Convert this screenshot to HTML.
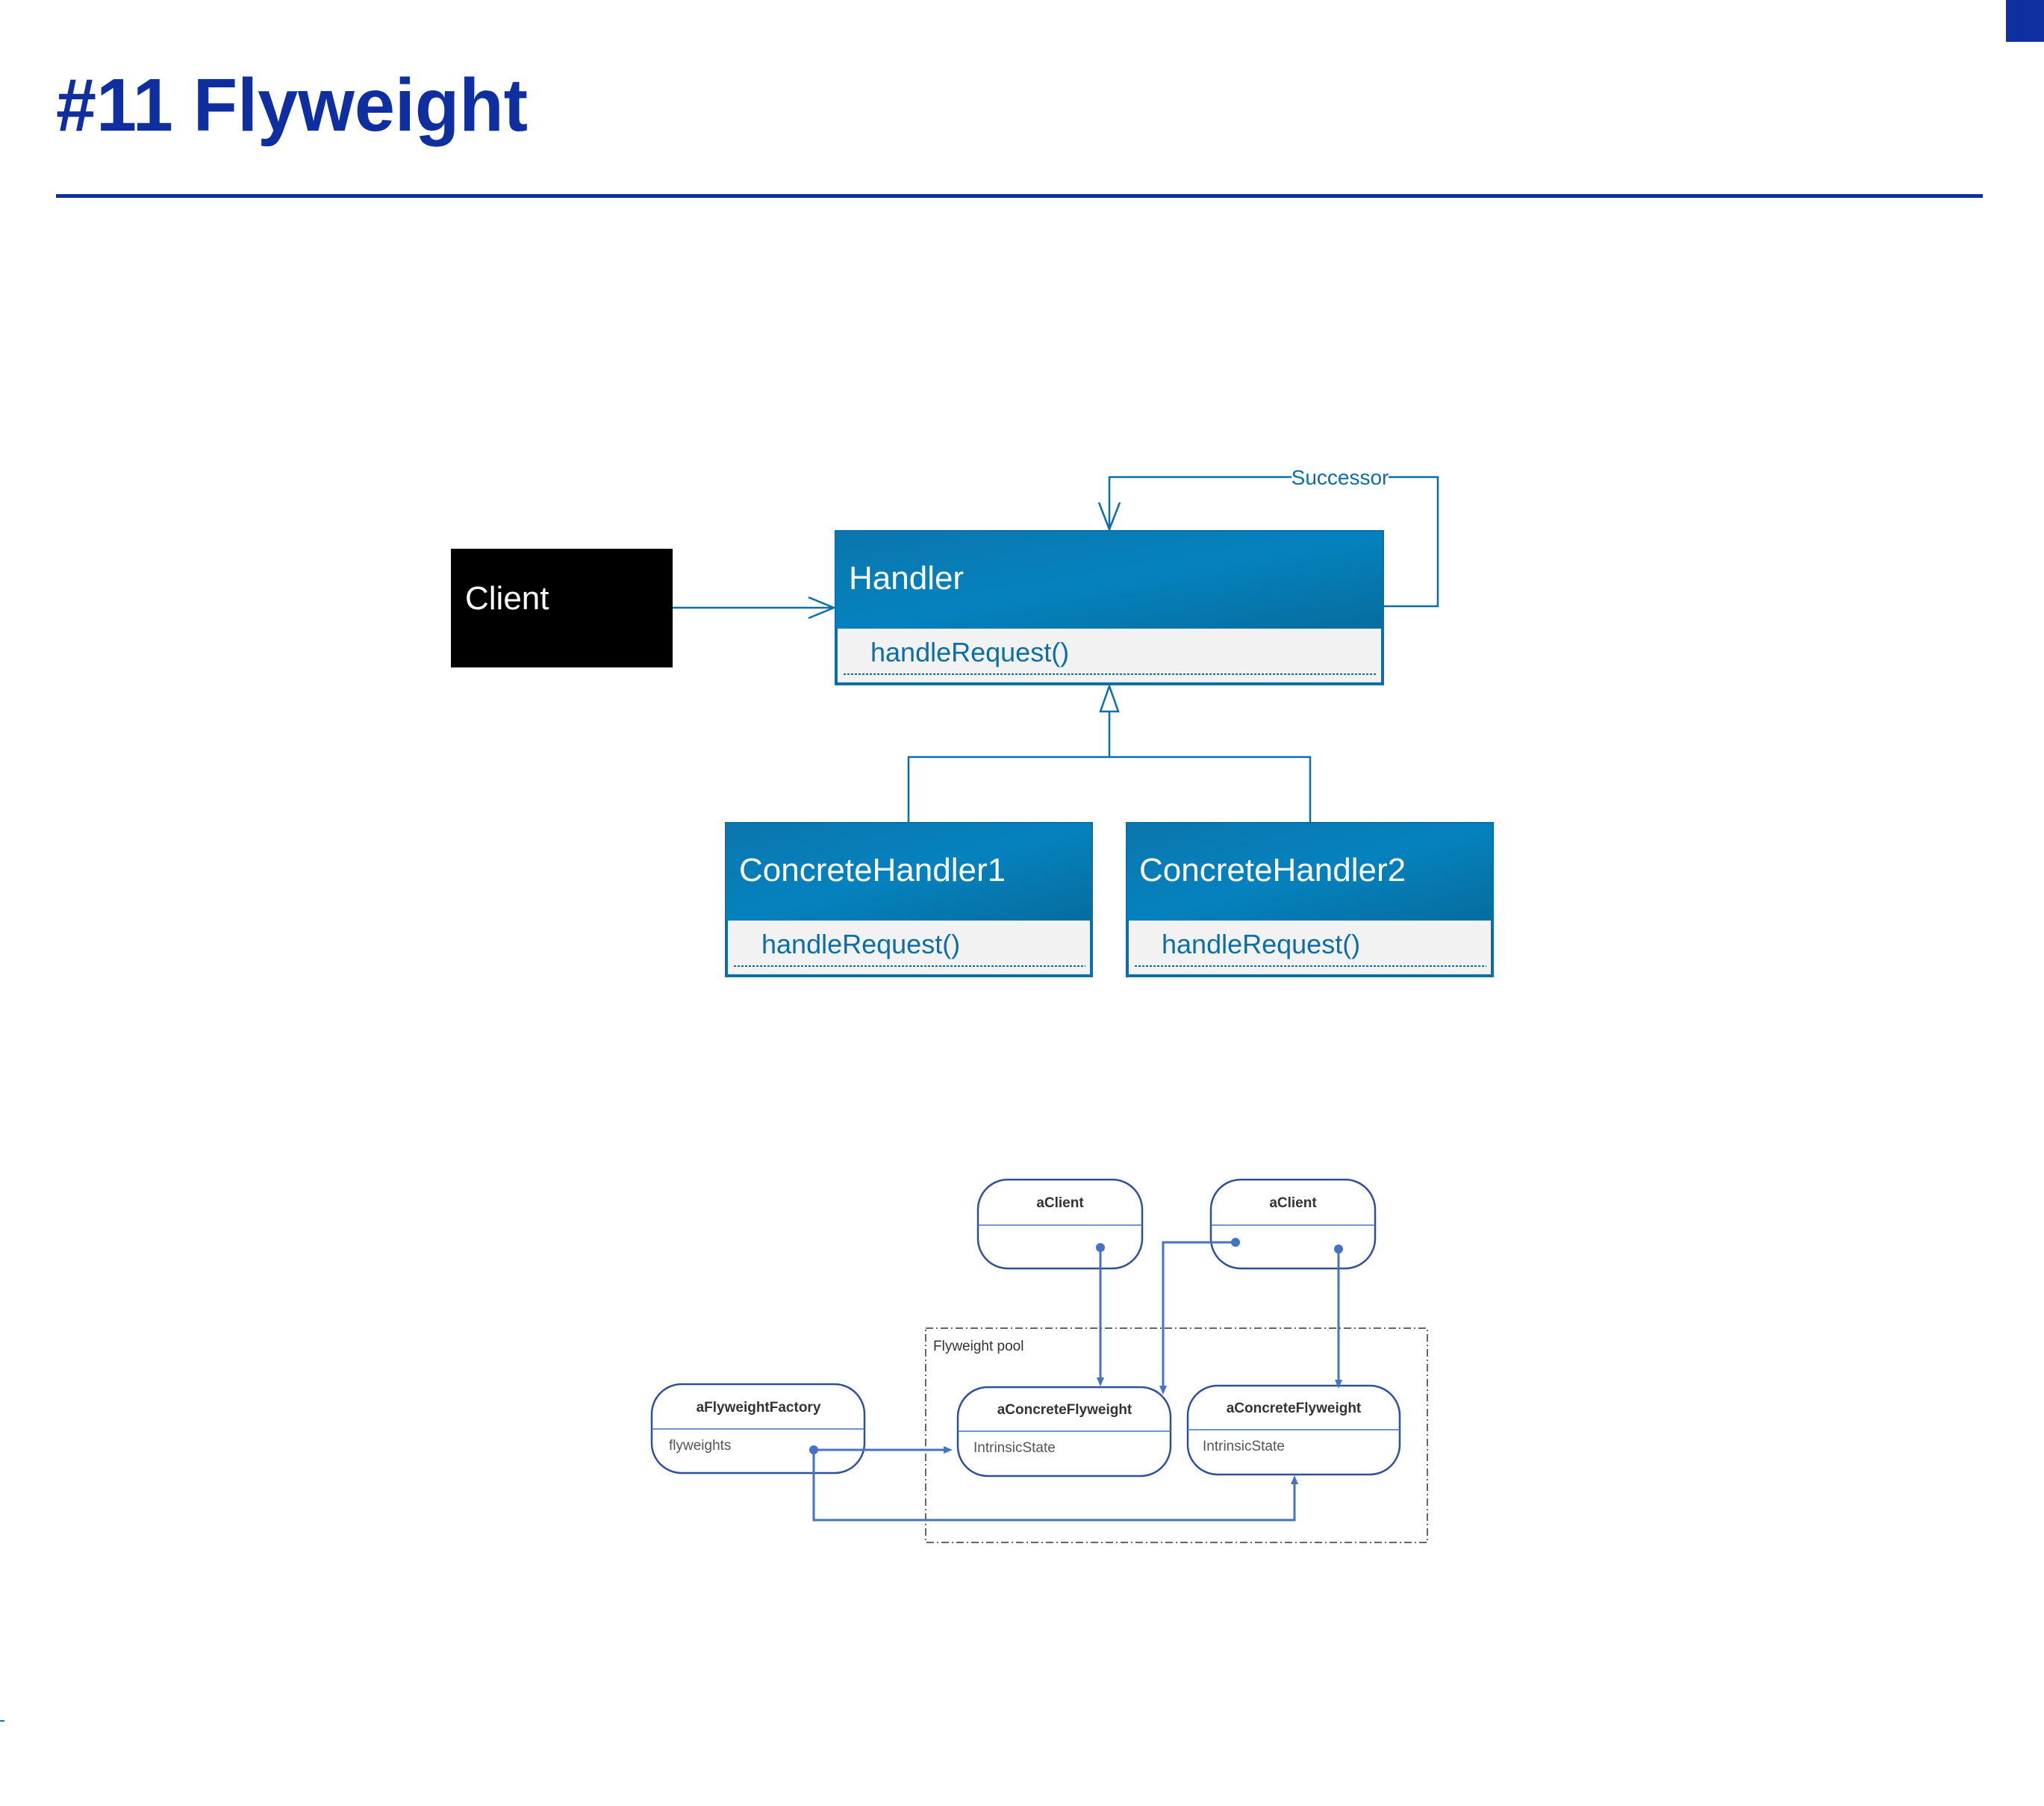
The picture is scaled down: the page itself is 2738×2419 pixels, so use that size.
<!DOCTYPE html>
<html><head><meta charset="utf-8"><style>
html,body{margin:0;padding:0;background:#fff;}
svg{display:block;}
text{font-family:"Liberation Sans",sans-serif;}
</style></head><body>
<svg width="2738" height="2419" viewBox="0 0 2738 2419" xmlns="http://www.w3.org/2000/svg">
<defs>
<linearGradient id="hg" x1="0" y1="0" x2="1" y2="1">
<stop offset="0" stop-color="#0b76ad"/><stop offset="0.5" stop-color="#0582be"/><stop offset="1" stop-color="#066d9f"/>
</linearGradient>
</defs>
<rect x="2687" y="0" width="51" height="56" fill="#0f2fa0"/>
<text x="75" y="175" font-size="100" font-weight="bold" fill="#0f2fa0" textLength="632" lengthAdjust="spacingAndGlyphs">#11 Flyweight</text>
<rect x="75" y="260" width="2581" height="5" fill="#0f2fa0"/>
<rect x="0" y="2304" width="6" height="2" fill="#0a7ab5"/>

<!-- Client -->
<rect x="604" y="735" width="297" height="159" fill="#000"/>
<text x="623" y="816" font-size="44" fill="#fff">Client</text>
<g stroke="#0a6ea8" stroke-width="2.5" fill="none">
<line x1="901" y1="814" x2="1117" y2="814"/>
<polyline points="1083,800 1117,814 1083,828"/>
<polyline points="1853,812 1926,812 1926,639 1486,639 1486,709"/>
<polyline points="1472,673 1486,709 1500,673"/>
<polygon points="1486,919 1474,953 1498,953"/>
<polyline points="1486,953 1486,1014 1217,1014 1217,1102"/>
<polyline points="1486,1014 1755,1014 1755,1102"/>
</g>
<rect x="1730" y="624" width="130" height="30" fill="#fff"/>
<text x="1795" y="649" font-size="28" fill="#0a6ea8" text-anchor="middle">Successor</text>

<!-- Handler -->
<rect x="1120" y="712" width="732" height="204" fill="#f2f2f2" stroke="#0a6ea8" stroke-width="4"/>
<rect x="1120" y="712" width="732" height="130" fill="url(#hg)"/>
<text x="1137" y="789" font-size="44" fill="#fff">Handler</text>
<text x="1166" y="886" font-size="36" fill="#0a6ea8">handleRequest()</text>
<line x1="1130" y1="903" x2="1844" y2="903" stroke="#0a6ea8" stroke-width="2" stroke-dasharray="3,2"/>

<!-- CH1 -->
<rect x="973" y="1103" width="489" height="204" fill="#f2f2f2" stroke="#0a6ea8" stroke-width="4"/>
<rect x="973" y="1103" width="489" height="130" fill="url(#hg)"/>
<text x="990" y="1180" font-size="44" fill="#fff">ConcreteHandler1</text>
<text x="1020" y="1277" font-size="36" fill="#0a6ea8">handleRequest()</text>
<line x1="983" y1="1294" x2="1454" y2="1294" stroke="#0a6ea8" stroke-width="2" stroke-dasharray="3,2"/>
<!-- CH2 -->
<rect x="1510" y="1103" width="489" height="204" fill="#f2f2f2" stroke="#0a6ea8" stroke-width="4"/>
<rect x="1510" y="1103" width="489" height="130" fill="url(#hg)"/>
<text x="1526" y="1180" font-size="44" fill="#fff">ConcreteHandler2</text>
<text x="1556" y="1277" font-size="36" fill="#0a6ea8">handleRequest()</text>
<line x1="1520" y1="1294" x2="1991" y2="1294" stroke="#0a6ea8" stroke-width="2" stroke-dasharray="3,2"/>

<!-- Flyweight pool -->
<rect x="1240" y="1779" width="672" height="287" fill="none" stroke="#333" stroke-width="1.5" stroke-dasharray="10,4,2,4"/>
<text x="1250" y="1809" font-size="19" fill="#333">Flyweight pool</text>

<g fill="#fff" stroke="#2f4f9a" stroke-width="2.5">
<rect x="1310" y="1580" width="220" height="119" rx="40"/>
<rect x="1622" y="1580" width="220" height="119" rx="40"/>
<rect x="873" y="1854" width="285" height="119" rx="40"/>
<rect x="1283" y="1858" width="285" height="119" rx="40"/>
<rect x="1591" y="1856" width="284" height="119" rx="40"/>
</g>
<g stroke="#4472c4" stroke-width="1.5">
<line x1="1310" y1="1641" x2="1530" y2="1641"/>
<line x1="1622" y1="1641" x2="1842" y2="1641"/>
<line x1="873" y1="1914" x2="1158" y2="1914"/>
<line x1="1283" y1="1917" x2="1568" y2="1917"/>
<line x1="1591" y1="1915" x2="1875" y2="1915"/>
</g>
<g font-size="19" fill="#333" font-weight="bold" text-anchor="middle">
<text x="1420" y="1617">aClient</text>
<text x="1732" y="1617">aClient</text>
<text x="1016" y="1891">aFlyweightFactory</text>
<text x="1426" y="1894">aConcreteFlyweight</text>
<text x="1733" y="1892">aConcreteFlyweight</text>
</g>
<g font-size="19" fill="#555">
<text x="896" y="1942">flyweights</text>
<text x="1304" y="1945">IntrinsicState</text>
<text x="1611" y="1943">IntrinsicState</text>
</g>
<g stroke="#4472c4" stroke-width="3" fill="none">
<line x1="1474" y1="1671" x2="1474" y2="1845"/>
<polyline points="1655,1664 1558,1664 1558,1858"/>
<line x1="1793" y1="1673" x2="1793" y2="1848"/>
<line x1="1090" y1="1942" x2="1266" y2="1942"/>
<polyline points="1090,1942 1090,2036 1734,2036 1734,1986"/>
</g>
<g fill="#4472c4">
<circle cx="1474" cy="1671" r="6"/><circle cx="1655" cy="1664" r="6"/><circle cx="1793" cy="1673" r="6"/><circle cx="1090" cy="1942" r="6"/>
<polygon points="1469,1845 1479,1845 1474,1857"/>
<polygon points="1553,1856 1563,1856 1558,1868"/>
<polygon points="1788,1848 1798,1848 1793,1860"/>
<polygon points="1264,1937 1264,1947 1276,1942"/>
<polygon points="1729,1988 1739,1988 1734,1976"/>
</g>
</svg>
</body></html>
